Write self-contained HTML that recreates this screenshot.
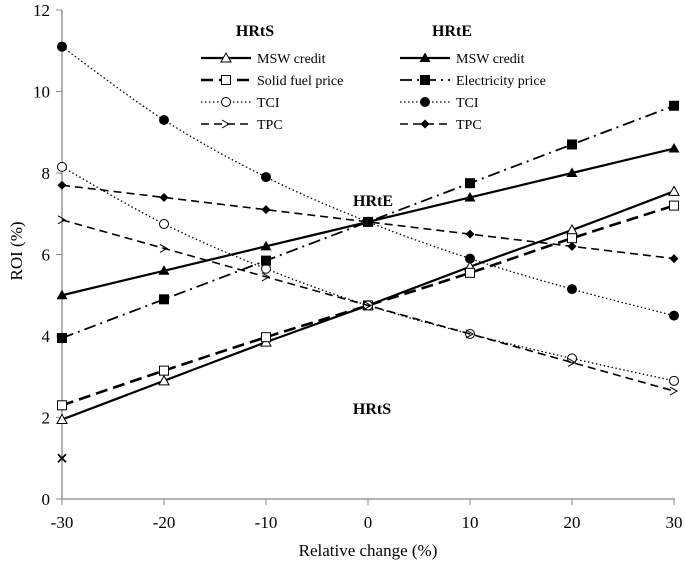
<!DOCTYPE html>
<html><head><meta charset="utf-8"><style>
body{margin:0;background:#fff}
svg{display:block}
svg text{font-family:"Liberation Serif","DejaVu Serif","Times New Roman",serif}
</style></head><body>
<svg id="c" width="685" height="561" font-family="Liberation Serif, DejaVu Serif, serif"></svg>
<script>
const categories=[-30,-20,-10,0,10,20,30];
const sMsw=[1.95,2.9,3.85,4.75,5.7,6.6,7.55];
const sFuel=[2.3,3.15,3.97,4.75,5.55,6.4,7.2];
const sTci=[8.15,6.75,5.65,4.75,4.05,3.45,2.9];
const sTpc=[6.85,6.15,5.45,4.75,4.05,3.35,2.65];
const eMsw=[5.0,5.6,6.2,6.8,7.4,8.0,8.6];
const eElec=[3.95,4.9,5.85,6.8,7.75,8.7,9.65];
const eTci=[11.1,9.3,7.9,6.8,5.9,5.15,4.5];
const eTpc=[7.7,7.4,7.1,6.8,6.5,6.2,5.9];
const crossPoint=[-30,1.0];
const yTicks=[0,2,4,6,8,10,12];
const xTicks=[-30,-20,-10,0,10,20,30];

const NS='http://www.w3.org/2000/svg';
const svg=document.getElementById('c');
const X=v=>62+(v+30)*10.2;
const Y=v=>499-v*40.75;
function mk(tag,at,parent){const e=document.createElementNS(NS,tag);for(const k in at)e.setAttribute(k,at[k]);(parent||svg).appendChild(e);return e;}
function txt(s,x,y,at,parent){const e=mk('text',Object.assign({x:x,y:y,'font-family':'Liberation Serif, DejaVu Serif, serif'},at||{}),parent);e.textContent=s;return e;}

let a=mk('line',{x1:62,y1:Y(12),x2:62,y2:499,stroke:'#888','stroke-width':1.3});

a=mk('line',{x1:62,y1:499,x2:675,y2:499,stroke:'#888','stroke-width':1.3});

yTicks.forEach(t=>{mk('line',{x1:56,x2:62,y1:Y(t),y2:Y(t),stroke:'#888'});
 const e=txt(t,50,Y(t)+6,{'text-anchor':'end','font-size':17});
 });
xTicks.forEach(t=>{mk('line',{x1:X(t),x2:X(t),y1:499,y2:505,stroke:'#888'});
 const e=txt(t,X(t),528,{'text-anchor':'middle','font-size':17});
 });
let t=txt('Relative change (%)',368,556,{'text-anchor':'middle','font-size':17});

t=txt('ROI (%)',0,0,{'text-anchor':'middle','font-size':17,transform:'translate(22,251) rotate(-90)'});


function marker(kind,x,y,g){
 const s={stroke:'#000','stroke-width':1};
 if(kind==='tri-o')mk('polygon',Object.assign({points:`${x},${y-5} ${x-5},${y+4} ${x+5},${y+4}`,fill:'#fff'},s),g);
 if(kind==='tri-f')mk('polygon',{points:`${x},${y-5.5} ${x-5.5},${y+4} ${x+5.5},${y+4}`,fill:'#000'},g);
 if(kind==='sq-o')mk('rect',Object.assign({x:x-4.5,y:y-4.5,width:9,height:9,fill:'#fff'},s),g);
 if(kind==='sq-f')mk('rect',{x:x-5,y:y-5,width:10,height:10,fill:'#000'},g);
 if(kind==='ci-o')mk('circle',Object.assign({cx:x,cy:y,r:4.5,fill:'#fff'},s),g);
 if(kind==='ci-f')mk('circle',{cx:x,cy:y,r:5,fill:'#000'},g);
 if(kind==='chev')mk('polyline',Object.assign({points:`${x-4},${y-4} ${x+3},${y} ${x-4},${y+4}`,fill:'none'},s),g);
 if(kind==='dia')mk('polygon',{points:`${x},${y-4.5} ${x+4.5},${y} ${x},${y+4.5} ${x-4.5},${y}`,fill:'#000'},g);
}
const series=[
 {n:'hrts-msw-credit',d:sMsw,dash:'',w:2.2,m:'tri-o'},
 {n:'hrts-solid-fuel-price',d:sFuel,dash:'12,6',w:2.6,m:'sq-o'},
 {n:'hrts-tci',d:sTci,dash:'1.5,2.5',w:1.3,m:'ci-o'},
 {n:'hrts-tpc',d:sTpc,dash:'8,5',w:1.6,m:'chev'},
 {n:'hrte-msw-credit',d:eMsw,dash:'',w:2.2,m:'tri-f'},
 {n:'hrte-electricity-price',d:eElec,dash:'12,5,2,5',w:1.8,m:'sq-f'},
 {n:'hrte-tci',d:eTci,dash:'1.5,2.5',w:1.3,m:'ci-f'},
 {n:'hrte-tpc',d:eTpc,dash:'8,5',w:1.6,m:'dia'},
];
function pathFor(d){
 const p=d.map((v,i)=>[X(categories[i]),Y(v)]);
 let s=`M${p[0][0]},${p[0][1]}`;
 for(let i=0;i<p.length-1;i++){
  const p0=p[i-1]||p[i],p1=p[i],p2=p[i+1],p3=p[i+2]||p2;
  s+=` C${p1[0]+(p2[0]-p0[0])/6},${p1[1]+(p2[1]-p0[1])/6} ${p2[0]-(p3[0]-p1[0])/6},${p2[1]-(p3[1]-p1[1])/6} ${p2[0]},${p2[1]}`;
 }return s;}
series.forEach(s=>{
 const g=mk('g',{});
 
 
 mk('path',{d:pathFor(s.d),fill:'none',stroke:'#000','stroke-width':s.w,'stroke-dasharray':s.dash},g);
 s.d.forEach((v,i)=>marker(s.m,X(categories[i]),Y(v),g));
});
const cx=X(crossPoint[0]),cy=Y(crossPoint[1]);
const cr=mk('path',{d:`M${cx-4},${cy-4}L${cx+4},${cy+4}M${cx+4},${cy-4}L${cx-4},${cy+4}`,stroke:'#000','stroke-width':1.8});


t=txt('HRtE',373,206,{'text-anchor':'middle','font-size':16,'font-weight':'bold'});

t=txt('HRtS',372,414,{'text-anchor':'middle','font-size':16,'font-weight':'bold'});


const lg=mk('g',{});

txt('HRtS',255,36,{'text-anchor':'middle','font-size':16,'font-weight':'bold'},lg);
txt('HRtE',452,36,{'text-anchor':'middle','font-size':16,'font-weight':'bold'},lg);
const labels=['MSW credit','Solid fuel price','TCI','TPC','MSW credit','Electricity price','TCI','TPC'];
series.forEach((s,i)=>{
 const col=i<4?0:1, row=i%4;
 const x0=col?400:201, y0=58+row*22;
 const g=mk('g',{},lg);
 
 
 mk('line',{x1:x0,x2:x0+50,y1:y0,y2:y0,stroke:'#000','stroke-width':s.w,'stroke-dasharray':s.dash},g);
 marker(s.m,x0+25,y0,g);
 txt(labels[i],x0+56,y0+5,{'font-size':14},g);
});
</script>
</body></html>
